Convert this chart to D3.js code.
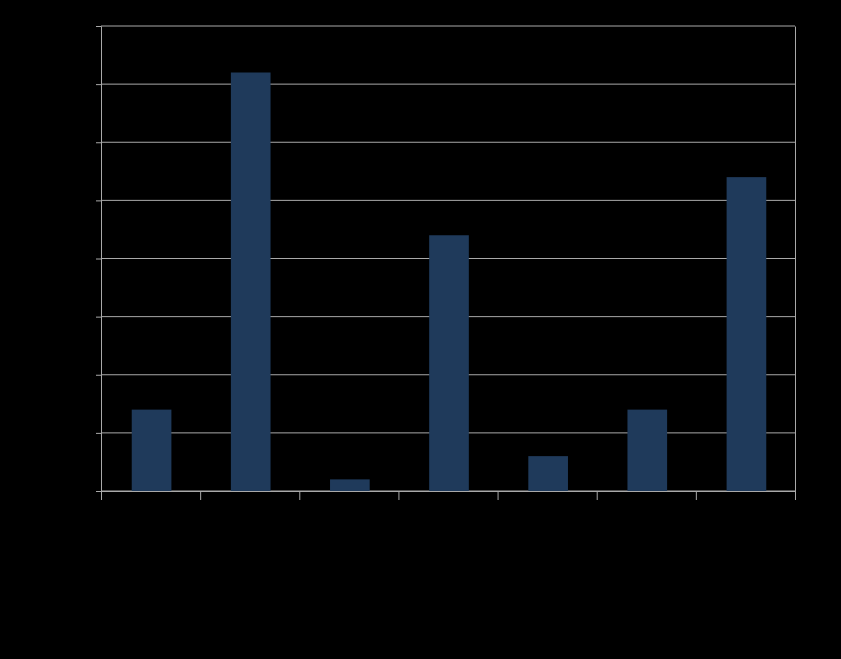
<!DOCTYPE html>
<html>
<head>
<meta charset="utf-8">
<script src="https://cdn.jsdelivr.net/npm/d3@7"></script>
<style>
  body { margin: 0; background: #000; }
  text { font-family: "Liberation Sans", Arial, sans-serif; font-size: 10px; }
</style>
</head>
<body>
<div id="chart"></div>
<script>
// bins of the histogram, and counts
const bins = ["1", "2", "3", "4", "5", "6", "7"];
const edges = [0, 1, 2, 3, 4, 5, 6, 7];
const counts = [7, 36, 1, 22, 3, 7, 27];
const yTicks = [0, 5, 10, 15, 20, 25, 30, 35, 40];

const width = 841;
const height = 659;
const margin = { top: 26, right: 46, bottom: 168, left: 101 };

const svg = d3
  .select("#chart")
  .append("svg")
  .attr("width", width)
  .attr("height", height)
  .style("background", "#000");

const x = d3
  .scaleBand()
  .domain(bins)
  .range([margin.left, width - margin.right])
  .paddingInner(0.6)
  .paddingOuter(0.3);

const xEdge = d3
  .scaleLinear()
  .domain([0, 7])
  .range([margin.left, width - margin.right]);

const y = d3
  .scaleLinear()
  .domain([0, 40])
  .range([height - margin.bottom, margin.top]);

const gridColor = "#a9a9a9";

// horizontal grid lines
svg
  .append("g")
  .selectAll("line")
  .data(yTicks)
  .join("line")
  .attr("x1", margin.left)
  .attr("x2", width - margin.right)
  .attr("y1", (d) => y(d))
  .attr("y2", (d) => y(d))
  .attr("stroke", gridColor)
  .attr("stroke-width", 1);

// bars
svg
  .append("g")
  .selectAll("rect")
  .data(counts)
  .join("rect")
  .attr("x", (d, i) => x(bins[i]) + 1)
  .attr("y", (d) => y(d))
  .attr("width", x.bandwidth())
  .attr("height", (d) => y(0) - y(d))
  .attr("fill", "#1f3a5b");

// left axis
const yAxis = svg
  .append("g")
  .attr("transform", `translate(${margin.left},0)`)
  .call(d3.axisLeft(y).tickValues(yTicks).tickSize(5).tickPadding(3));

// right border
const yAxisRight = svg
  .append("g")
  .attr("transform", `translate(${width - margin.right},0)`)
  .call(d3.axisRight(y).tickValues(yTicks).tickSize(0).tickPadding(3));

// bottom axis, ticks on the bin edges
const xAxis = svg
  .append("g")
  .attr("transform", `translate(0,${height - margin.bottom})`)
  .call(d3.axisBottom(xEdge).tickValues(edges).tickFormat(d3.format("d")).tickSize(9).tickPadding(3));

[yAxis, yAxisRight, xAxis].forEach((g) => {
  g.select(".domain").attr("stroke", gridColor);
  g.selectAll(".tick line").attr("stroke", gridColor);
  g.selectAll(".tick text").attr("fill", "#000");
});
</script>
</body>
</html>
